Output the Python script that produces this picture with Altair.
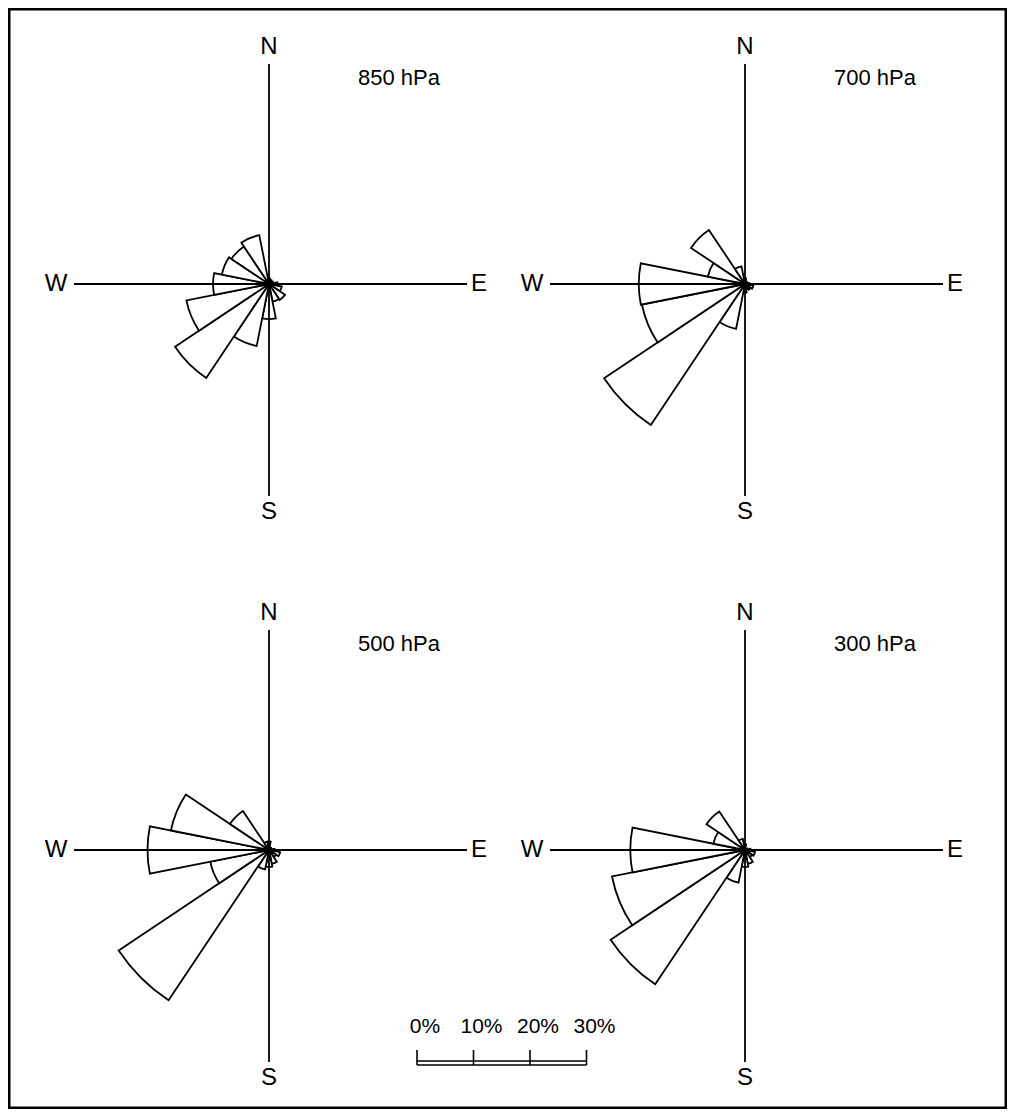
import math
import altair as alt
import pandas as pd

# ---------------- data ----------------
DIRS = ["N", "NNE", "NE", "ENE", "E", "ESE", "SE", "SSE",
        "S", "SSW", "SW", "WSW", "W", "WNW", "NW", "NNW"]
P850 = [1.0, 0.8, 0.6, 0.8, 1.5, 2.3, 3.4, 3.2, 6.2, 11.2, 20.0, 14.9, 9.9, 8.5, 8.0, 8.8]
P700 = [1.0, 0.5, 0.5, 0.5, 0.8, 1.5, 1.2, 1.0, 1.5, 8.1, 30.0, 18.6, 18.8, 6.7, 11.5, 3.2]
P500 = [1.5, 0.5, 0.5, 0.5, 1.0, 2.0, 1.5, 2.5, 3.0, 3.5, 32.0, 10.6, 21.5, 17.7, 8.3, 1.5]
P300 = [1.0, 0.3, 0.3, 0.5, 1.0, 1.8, 1.5, 2.5, 3.0, 5.9, 28.6, 24.0, 20.3, 5.7, 8.2, 2.0]
LEVELS = ["850 hPa", "700 hPa", "500 hPa", "300 hPa"]
SERIES = [P850, P700, P500, P300]
SCALE_TICKS = [0, 10, 20, 30]
SCALE_LABELS = ["0%", "10%", "20%", "30%"]

# ---------------- layout (pixels) ----------------
W, H, PAD = 997, 1099, 1
CENTERS = [(260, 275), (736, 275), (260, 841), (736, 841)]
R30 = 169.5                      # radius (px) of 30 %
PXPCT = R30 / 30.0
FONT = "Liberation Sans"

rows = []
for lev, vals, (cx, cy) in zip(LEVELS, SERIES, CENTERS):
    for i, (d, v) in enumerate(zip(DIRS, vals)):
        b = i * 22.5
        t0 = (b - 11.25) % 360
        rows.append(dict(level=lev, dir=d, pct=v, t0=t0, t1=t0 + 22.5, cx=cx, cy=cy))
rose = pd.DataFrame(rows)

petals = alt.Chart(rose).mark_arc(fill="white", stroke="black", strokeWidth=1.8).encode(
    x=alt.X("cx:Q", scale=None, axis=None),
    y=alt.Y("cy:Q", scale=None, axis=None),
    theta=alt.Theta("t0:Q", scale=alt.Scale(domain=[0, 360], range=[0, 2 * math.pi]), stack=False),
    theta2="t1:Q",
    radius=alt.Radius("pct:Q", scale=alt.Scale(type="linear", domain=[0, 30], range=[0, R30])),
)

# crosshair axes
lines = []
for cx, cy in CENTERS:
    lines.append(dict(x=cx - 195, x2=cx + 198, y=cy, y2=cy))
    lines.append(dict(x=cx, x2=cx, y=cy - 220, y2=cy + 212))
axes_df = pd.DataFrame(lines)
axes = alt.Chart(axes_df).mark_rule(color="black", strokeWidth=1.8).encode(
    x=alt.X("x:Q", scale=None, axis=None), x2="x2:Q",
    y=alt.Y("y:Q", scale=None, axis=None), y2="y2:Q",
)

# compass labels
lab = []
for cx, cy in CENTERS:
    lab += [dict(t="N", x=cx, y=cy - 237), dict(t="S", x=cx, y=cy + 228),
            dict(t="W", x=cx - 213, y=cy), dict(t="E", x=cx + 210, y=cy)]
lab_df = pd.DataFrame(lab)
compass = alt.Chart(lab_df).mark_text(font=FONT, fontSize=24, color="black",
                                      align="center", baseline="middle").encode(
    x=alt.X("x:Q", scale=None, axis=None), y=alt.Y("y:Q", scale=None, axis=None), text="t:N")

tit_df = pd.DataFrame([dict(t=l, x=cx + 130, y=cy - 206) for l, (cx, cy) in zip(LEVELS, CENTERS)])
titles = alt.Chart(tit_df).mark_text(font=FONT, fontSize=22, color="black",
                                     align="center", baseline="middle").encode(
    x=alt.X("x:Q", scale=None, axis=None), y=alt.Y("y:Q", scale=None, axis=None), text="t:N")

# scale bar
X0, YB = 408, 1054
sb = pd.DataFrame(dict(pct=SCALE_TICKS, lab=SCALE_LABELS))
sb["x"] = X0 + sb["pct"] * PXPCT
sb["xl"] = sb["x"] + 8
sb["y"] = YB - 13
sb["y2"] = YB + 2
sb["yl"] = YB - 36
ticks = alt.Chart(sb).mark_rule(color="black", strokeWidth=1.6).encode(
    x=alt.X("x:Q", scale=None, axis=None), y=alt.Y("y:Q", scale=None, axis=None), y2="y2:Q")
tick_labels = alt.Chart(sb).mark_text(font=FONT, fontSize=21, color="black",
                                      align="center", baseline="middle").encode(
    x=alt.X("xl:Q", scale=None, axis=None), y=alt.Y("yl:Q", scale=None, axis=None), text="lab:N")
bar_df = pd.DataFrame(dict(x=[X0, X0], x2=[X0 + 30 * PXPCT] * 2, y=[YB - 2, YB + 2]))
bar = alt.Chart(bar_df).mark_rule(color="black", strokeWidth=1.4).encode(
    x=alt.X("x:Q", scale=None, axis=None), x2="x2:Q", y=alt.Y("y:Q", scale=None, axis=None))

chart = alt.layer(petals, axes, compass, titles, ticks, tick_labels, bar).properties(
    width=W, height=H, padding=PAD, autosize="none", background="white"
).configure_view(stroke="black", strokeWidth=3)

chart.save("out.html", embed_options={"renderer": "svg", "actions": False})
